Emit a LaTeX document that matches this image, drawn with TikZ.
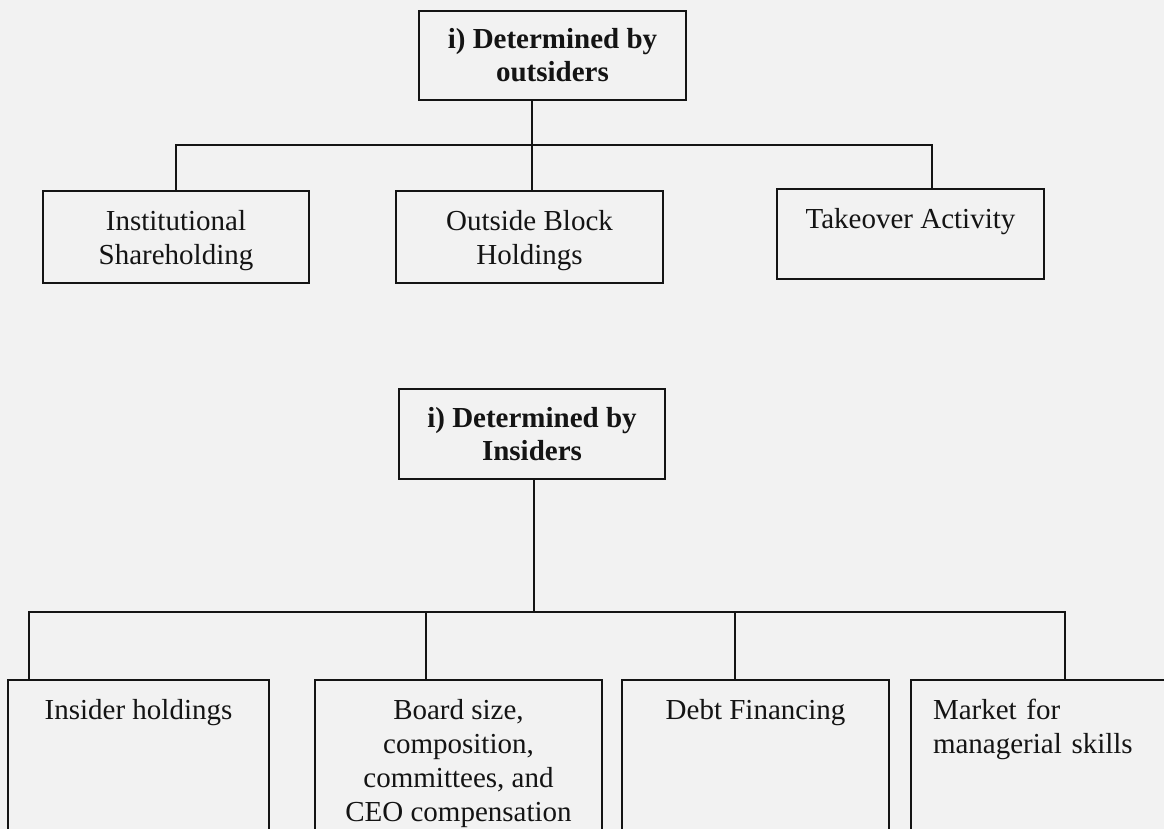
\documentclass[tikz,border=0pt]{standalone}
\usepackage{fontspec}
\setmainfont{Liberation Serif}
\usetikzlibrary{calc}
\definecolor{paper}{HTML}{F2F2F2}
\definecolor{ink}{HTML}{141414}
\tikzset{
  box/.style={draw=ink, line width=2pt, rectangle, inner xsep=20pt, inner ysep=0pt,
    align=center, text=ink, font=\fontsize{29}{34}\selectfont},
  head/.style={box, font=\fontsize{29}{33}\selectfont\bfseries},
  topbox/.style={box, anchor=north, inner ysep=19pt},
  wire/.style={draw=ink, line width=2pt}
}

\begin{document}
\begin{tikzpicture}[x=1pt,y=-1pt]
  \fill[paper] (0,0) rectangle (1164,829);
  \useasboundingbox (0,0) rectangle (1164,829);
  \clip (0,0) rectangle (1164,829);

  % outsiders
  \node[head, minimum width=267pt, minimum height=89pt] (outs) at (552.5,55.5) {i) Determined by\\outsiders};
  \node[topbox, minimum width=266pt, text depth=-5pt] (inst) at (176,190) {Institutional\\Shareholding};
  \node[topbox, minimum width=267pt, text depth=-5pt] (blk) at (529.5,190) {Outside Block\\Holdings};
  \node[topbox, minimum width=267pt, text depth=32pt] (take) at (910.5,188) {Takeover Activity};

  \coordinate (ta) at (532,145);
  \coordinate (tl) at (176,145);
  \coordinate (tr) at (932,145);
  \draw[wire] (outs.south -| ta) -- (blk.north -| ta);
  \draw[wire] (inst.north -| tl) -- (tl) -- (tr) -- (take.north -| tr);

  % insiders
  \node[head, minimum width=266pt, minimum height=90pt] (ins) at (532,434) {i) Determined by\\Insiders};
  \node[topbox, minimum width=261pt, text depth=200pt] (hold) at (138.5,679) {Insider holdings};
  \node[topbox, minimum width=287pt, text depth=200pt] (board) at (458.5,679) {Board size,\\composition,\\committees, and\\CEO compensation};
  \node[topbox, minimum width=267pt, text depth=200pt] (debt) at (755.5,679) {Debt Financing};
  \node[topbox, anchor=north west, text width=246pt, inner xsep=22pt, align=left, text depth=200pt] (mkt) at (910,679) {Market for\\managerial skills};

  \coordinate (ba) at (534,612);
  \coordinate (bl) at (29,612);
  \coordinate (br) at (1065,612);
  \coordinate (bb) at (426,612);
  \coordinate (bd) at (735,612);
  \draw[wire] (ins.south -| ba) -- (ba);
  \draw[wire] (hold.north -| bl) -- (bl) -- (br) -- (mkt.north -| br);
  \draw[wire] (bb) -- (board.north -| bb);
  \draw[wire] (bd) -- (debt.north -| bd);
\end{tikzpicture}
\end{document}
